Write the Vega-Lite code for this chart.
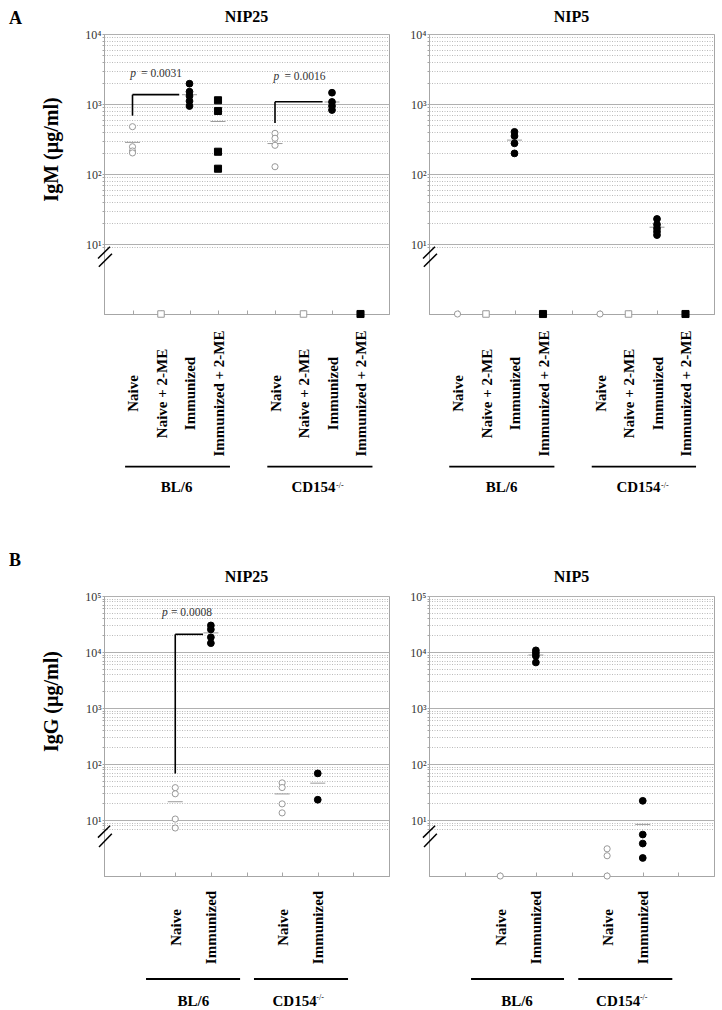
{
  "$schema": "https://vega.github.io/schema/vega-lite/v6.json",
  "padding": {"left": 8, "top": 8, "right": 8, "bottom": 4},
  "background": "white",
  "columns": 2,
  "spacing": {"row": 282, "column": 40},
  "bounds": "flush",
  "datasets": {
    "igm25": [
      {"col": "BL/6|Naive", "treat": "Naive", "value": 474},
      {"col": "BL/6|Naive", "treat": "Naive", "value": 245},
      {"col": "BL/6|Naive", "treat": "Naive", "value": 213},
      {"col": "BL/6|Naive", "treat": "Naive", "value": 200},
      {"col": "BL/6|Naive + 2-ME", "treat": "Naive + 2-ME", "value": 1},
      {"col": "BL/6|Immunized", "treat": "Immunized", "value": 1950},
      {"col": "BL/6|Immunized", "treat": "Immunized", "value": 1500},
      {"col": "BL/6|Immunized", "treat": "Immunized", "value": 1300},
      {"col": "BL/6|Immunized", "treat": "Immunized", "value": 1100},
      {"col": "BL/6|Immunized", "treat": "Immunized", "value": 935},
      {"col": "BL/6|Immunized + 2-ME", "treat": "Immunized + 2-ME", "value": 1130},
      {"col": "BL/6|Immunized + 2-ME", "treat": "Immunized + 2-ME", "value": 795},
      {"col": "BL/6|Immunized + 2-ME", "treat": "Immunized + 2-ME", "value": 208},
      {"col": "BL/6|Immunized + 2-ME", "treat": "Immunized + 2-ME", "value": 119},
      {"col": "CD154|Naive", "treat": "Naive", "value": 381},
      {"col": "CD154|Naive", "treat": "Naive", "value": 324},
      {"col": "CD154|Naive", "treat": "Naive", "value": 257},
      {"col": "CD154|Naive", "treat": "Naive", "value": 127},
      {"col": "CD154|Naive + 2-ME", "treat": "Naive + 2-ME", "value": 1},
      {"col": "CD154|Immunized", "treat": "Immunized", "value": 1450},
      {"col": "CD154|Immunized", "treat": "Immunized", "value": 1070},
      {"col": "CD154|Immunized", "treat": "Immunized", "value": 935},
      {"col": "CD154|Immunized", "treat": "Immunized", "value": 820},
      {"col": "CD154|Immunized + 2-ME", "treat": "Immunized + 2-ME", "value": 1}
    ],
    "igm5": [
      {"col": "BL/6|Naive", "treat": "Naive", "value": 1},
      {"col": "BL/6|Naive + 2-ME", "treat": "Naive + 2-ME", "value": 1},
      {"col": "BL/6|Immunized", "treat": "Immunized", "value": 400},
      {"col": "BL/6|Immunized", "treat": "Immunized", "value": 349},
      {"col": "BL/6|Immunized", "treat": "Immunized", "value": 274},
      {"col": "BL/6|Immunized", "treat": "Immunized", "value": 197},
      {"col": "BL/6|Immunized + 2-ME", "treat": "Immunized + 2-ME", "value": 1},
      {"col": "CD154|Naive", "treat": "Naive", "value": 1},
      {"col": "CD154|Naive + 2-ME", "treat": "Naive + 2-ME", "value": 1},
      {"col": "CD154|Immunized", "treat": "Immunized", "value": 22.8},
      {"col": "CD154|Immunized", "treat": "Immunized", "value": 19},
      {"col": "CD154|Immunized", "treat": "Immunized", "value": 16.7},
      {"col": "CD154|Immunized", "treat": "Immunized", "value": 15},
      {"col": "CD154|Immunized", "treat": "Immunized", "value": 13.4},
      {"col": "CD154|Immunized + 2-ME", "treat": "Immunized + 2-ME", "value": 1}
    ],
    "igg25": [
      {"col": "BL/6|Naive", "treat": "Naive", "value": 37.8},
      {"col": "BL/6|Naive", "treat": "Naive", "value": 29.4},
      {"col": "BL/6|Naive", "treat": "Naive", "value": 10.4},
      {"col": "BL/6|Naive", "treat": "Naive", "value": 7.2},
      {"col": "BL/6|Immunized", "treat": "Immunized", "value": 29800},
      {"col": "BL/6|Immunized", "treat": "Immunized", "value": 25300},
      {"col": "BL/6|Immunized", "treat": "Immunized", "value": 18300},
      {"col": "BL/6|Immunized", "treat": "Immunized", "value": 14400},
      {"col": "CD154|Naive", "treat": "Naive", "value": 46},
      {"col": "CD154|Naive", "treat": "Naive", "value": 38},
      {"col": "CD154|Naive", "treat": "Naive", "value": 19.4},
      {"col": "CD154|Naive", "treat": "Naive", "value": 13.4},
      {"col": "CD154|Immunized", "treat": "Immunized", "value": 68},
      {"col": "CD154|Immunized", "treat": "Immunized", "value": 23}
    ],
    "igg5": [
      {"col": "BL/6|Naive", "treat": "Naive", "value": 1},
      {"col": "BL/6|Immunized", "treat": "Immunized", "value": 10700},
      {"col": "BL/6|Immunized", "treat": "Immunized", "value": 9600},
      {"col": "BL/6|Immunized", "treat": "Immunized", "value": 8500},
      {"col": "BL/6|Immunized", "treat": "Immunized", "value": 6500},
      {"col": "CD154|Naive", "treat": "Naive", "value": 3.06},
      {"col": "CD154|Naive", "treat": "Naive", "value": 2.3},
      {"col": "CD154|Naive", "treat": "Naive", "value": 1},
      {"col": "CD154|Immunized", "treat": "Immunized", "value": 22},
      {"col": "CD154|Immunized", "treat": "Immunized", "value": 5.5},
      {"col": "CD154|Immunized", "treat": "Immunized", "value": 3.8},
      {"col": "CD154|Immunized", "treat": "Immunized", "value": 2.1}
    ]
  },
  "concat": [
    {
      "width": 285, "height": 280,
      "data": {"name": "igm25"},
      "resolve": {"scale": {"x": "independent"}, "axis": {"y": "independent"}},
      "layer": [
        {
          "resolve": {"axis": {"y": "independent"}},
          "encoding": {"x": {"field": "col", "type": "nominal", "scale": {"type": "point", "padding": 0, "domain": ["s0", "BL/6|Naive", "BL/6|Naive + 2-ME", "BL/6|Immunized", "BL/6|Immunized + 2-ME", "s5", "CD154|Naive", "CD154|Naive + 2-ME", "CD154|Immunized", "CD154|Immunized + 2-ME", "s10"]},
            "axis": {"title": null, "grid": false, "domainColor": "#a6a6a6", "tickColor": "#a6a6a6", "tickSize": -4, "labelAngle": 270, "labelAlign": "center", "labelBaseline": "middle", "labelPadding": 83, "labelExpr": "indexof(datum.label, '|') >= 0 ? substring(datum.label, indexof(datum.label, '|') + 1) : ''", "labelFont": "Liberation Serif", "labelFontWeight": "bold", "labelFontSize": 15, "labelColor": "black", "labelOverlap": false, "labelBound": false}}},
          "layer": [
            {"transform": [{"joinaggregate": [{"op": "min", "field": "value", "as": "minv"}], "groupby": ["col"]}, {"filter": "datum.minv > 1"}],
             "mark": {"type": "tick", "orient": "horizontal", "size": 15, "thickness": 1, "color": "#9a9a9a"},
             "encoding": {"y": {"aggregate": "mean", "field": "value", "type": "quantitative", "axis": null}}},
            {"mark": {"type": "point", "filled": true, "strokeWidth": 1, "opacity": 1},
             "encoding": {
               "y": {"field": "value", "type": "quantitative", "scale": {"type": "log", "domain": [1, 10000], "nice": false},
                 "axis": {"orient": "left", "title": "IgM (µg/ml)", "titleFont": "Liberation Serif", "titleFontSize": 20, "titleFontWeight": "bold", "titleColor": "black", "titleX": -43, "titleY": 115,
                   "values": [9, 10, 20, 30, 40, 50, 60, 70, 80, 90, 100, 200, 300, 400, 500, 600, 700, 800, 900, 1000, 2000, 3000, 4000, 5000, 6000, 7000, 8000, 9000, 10000],
                   "labelExpr": "datum.value == 10 ? '10¹' : datum.value == 100 ? '10²' : datum.value == 1000 ? '10³' : datum.value == 10000 ? '10⁴' : datum.value == 100000 ? '10⁵' : ''",
                   "labelFont": "Liberation Serif", "labelFontSize": 12, "labelColor": "#333333", "labelPadding": 1, "labelOverlap": false, "labelBound": false,
                   "tickSize": 2, "tickColor": "#a6a6a6", "domainColor": "#a6a6a6", "grid": true, "gridWidth": 1,
                   "gridColor": {"condition": {"test": "indexof([10,100,1000,10000,100000], datum.value) >= 0", "value": "#b0b0b0"}, "value": "#bababa"},
                   "gridDash": {"condition": {"test": "indexof([10,100,1000,10000,100000], datum.value) >= 0", "value": []}, "value": [1, 1.5]}}},
               "shape": {"field": "treat", "type": "nominal", "scale": {"domain": ["Naive", "Naive + 2-ME", "Immunized", "Immunized + 2-ME"], "range": ["circle", "square", "circle", "square"]}, "legend": null},
               "fill": {"field": "treat", "type": "nominal", "scale": {"domain": ["Naive", "Naive + 2-ME", "Immunized", "Immunized + 2-ME"], "range": ["white", "white", "black", "black"]}, "legend": null},
               "stroke": {"field": "treat", "type": "nominal", "scale": {"domain": ["Naive", "Naive + 2-ME", "Immunized", "Immunized + 2-ME"], "range": ["#999999", "#999999", "black", "black"]}, "legend": null},
               "size": {"field": "treat", "type": "nominal", "scale": {"domain": ["Naive", "Naive + 2-ME", "Immunized", "Immunized + 2-ME"], "range": [38, 50, 40, 52]}, "legend": null}
             }}
          ]
        },
        {
          "data": {"values": [{}]},
          "layer": [
            {"mark": {"type": "rule", "color": "black", "strokeWidth": 1.6}, "encoding": {"x": {"datum": 1, "type": "quantitative", "scale": {"domain": [0, 10], "nice": false, "zero": false}, "axis": null}, "y": {"datum": 681, "type": "quantitative", "axis": null}, "y2": {"datum": 1360}}},
            {"mark": {"type": "rule", "color": "black", "strokeWidth": 1.6}, "encoding": {"x": {"datum": 1, "type": "quantitative", "scale": {"domain": [0, 10], "nice": false, "zero": false}, "axis": null}, "x2": {"datum": 2.64}, "y": {"datum": 1360, "type": "quantitative", "axis": null}}},
            {"mark": {"type": "rule", "color": "black", "strokeWidth": 1.6}, "encoding": {"x": {"datum": 6, "type": "quantitative", "scale": {"domain": [0, 10], "nice": false, "zero": false}, "axis": null}, "y": {"datum": 535, "type": "quantitative", "axis": null}, "y2": {"datum": 1079}}},
            {"mark": {"type": "rule", "color": "black", "strokeWidth": 1.6}, "encoding": {"x": {"datum": 6, "type": "quantitative", "scale": {"domain": [0, 10], "nice": false, "zero": false}, "axis": null}, "x2": {"datum": 7.67}, "y": {"datum": 1079, "type": "quantitative", "axis": null}}},
            {"mark": {"type": "text", "text": "p", "fontStyle": "italic", "fontSize": 11.5, "align": "left", "baseline": "alphabetic", "color": "#333333"}, "encoding": {"x": {"datum": 0.92, "type": "quantitative", "scale": {"domain": [0, 10], "nice": false, "zero": false}, "axis": null}, "y": {"datum": 2400, "type": "quantitative", "axis": null}}},
            {"mark": {"type": "text", "text": "= 0.0031", "fontSize": 11.5, "align": "left", "baseline": "alphabetic", "color": "#333333"}, "encoding": {"x": {"datum": 1.3, "type": "quantitative", "scale": {"domain": [0, 10], "nice": false, "zero": false}, "axis": null}, "y": {"datum": 2400, "type": "quantitative", "axis": null}}},
            {"mark": {"type": "text", "text": "p", "fontStyle": "italic", "fontSize": 11.5, "align": "left", "baseline": "alphabetic", "color": "#333333"}, "encoding": {"x": {"datum": 5.95, "type": "quantitative", "scale": {"domain": [0, 10], "nice": false, "zero": false}, "axis": null}, "y": {"datum": 2225, "type": "quantitative", "axis": null}}},
            {"mark": {"type": "text", "text": "= 0.0016", "fontSize": 11.5, "align": "left", "baseline": "alphabetic", "color": "#333333"}, "encoding": {"x": {"datum": 6.33, "type": "quantitative", "scale": {"domain": [0, 10], "nice": false, "zero": false}, "axis": null}, "y": {"datum": 2225, "type": "quantitative", "axis": null}}},
            {"mark": {"type": "rule", "color": "black", "strokeWidth": 1.8}, "encoding": {"x": {"datum": 0.74, "type": "quantitative", "scale": {"domain": [0, 10], "nice": false, "zero": false}, "axis": null}, "x2": {"datum": 4.42}, "y": {"datum": 0.00659, "type": "quantitative", "axis": null}}},
            {"mark": {"type": "rule", "color": "black", "strokeWidth": 1.8}, "encoding": {"x": {"datum": 5.73, "type": "quantitative", "scale": {"domain": [0, 10], "nice": false, "zero": false}, "axis": null}, "x2": {"datum": 9.42}, "y": {"datum": 0.00659, "type": "quantitative", "axis": null}}},
            {"mark": {"type": "text", "text": "BL/6", "fontSize": 15, "fontWeight": "bold", "align": "center", "baseline": "alphabetic"}, "encoding": {"x": {"datum": 2.55, "type": "quantitative", "scale": {"domain": [0, 10], "nice": false, "zero": false}, "axis": null}, "y": {"datum": 0.00284, "type": "quantitative", "axis": null}}},
            {"mark": {"type": "text", "text": "CD154", "fontSize": 15, "fontWeight": "bold", "align": "center", "baseline": "alphabetic"}, "encoding": {"x": {"datum": 7.35, "type": "quantitative", "scale": {"domain": [0, 10], "nice": false, "zero": false}, "axis": null}, "y": {"datum": 0.00284, "type": "quantitative", "axis": null}}},
            {"mark": {"type": "text", "text": "-/-", "fontSize": 8, "align": "left", "baseline": "alphabetic"}, "encoding": {"x": {"datum": 8.14, "type": "quantitative", "scale": {"domain": [0, 10], "nice": false, "zero": false}, "axis": null}, "y": {"datum": 0.0033, "type": "quantitative", "axis": null}}},
            {"mark": {"type": "rule", "color": "black", "strokeWidth": 1.5}, "encoding": {"x": {"datum": -0.21, "type": "quantitative", "scale": {"domain": [0, 10], "nice": false, "zero": false}, "axis": null}, "x2": {"datum": 0.21}, "y": {"datum": 6.2, "type": "quantitative", "axis": null}, "y2": {"datum": 9.15}}},
            {"mark": {"type": "rule", "color": "black", "strokeWidth": 1.5}, "encoding": {"x": {"datum": -0.18, "type": "quantitative", "scale": {"domain": [0, 10], "nice": false, "zero": false}, "axis": null}, "x2": {"datum": 0.28}, "y": {"datum": 4.74, "type": "quantitative", "axis": null}, "y2": {"datum": 7.27}}},
            {"mark": {"type": "text", "text": "NIP25", "fontSize": 16, "fontWeight": "bold", "align": "center", "baseline": "alphabetic"}, "encoding": {"x": {"datum": 5, "type": "quantitative", "scale": {"domain": [0, 10], "nice": false, "zero": false}, "axis": null}, "y": {"datum": 15000, "type": "quantitative", "axis": null}}},
            {"mark": {"type": "text", "text": "A", "fontSize": 18, "fontWeight": "bold", "align": "left", "baseline": "alphabetic"}, "encoding": {"x": {"datum": -3.33, "type": "quantitative", "scale": {"domain": [0, 10], "nice": false, "zero": false}, "axis": null}, "y": {"datum": 13900, "type": "quantitative", "axis": null}}}
          ]
        }
      ]
    },
    {
      "width": 285, "height": 280,
      "data": {"name": "igm5"},
      "resolve": {"scale": {"x": "independent"}, "axis": {"y": "independent"}},
      "layer": [
        {
          "resolve": {"axis": {"y": "independent"}},
          "encoding": {"x": {"field": "col", "type": "nominal", "scale": {"type": "point", "padding": 0, "domain": ["s0", "BL/6|Naive", "BL/6|Naive + 2-ME", "BL/6|Immunized", "BL/6|Immunized + 2-ME", "s5", "CD154|Naive", "CD154|Naive + 2-ME", "CD154|Immunized", "CD154|Immunized + 2-ME", "s10"]},
            "axis": {"title": null, "grid": false, "domainColor": "#a6a6a6", "tickColor": "#a6a6a6", "tickSize": -4, "labelAngle": 270, "labelAlign": "center", "labelBaseline": "middle", "labelPadding": 83, "labelExpr": "indexof(datum.label, '|') >= 0 ? substring(datum.label, indexof(datum.label, '|') + 1) : ''", "labelFont": "Liberation Serif", "labelFontWeight": "bold", "labelFontSize": 15, "labelColor": "black", "labelOverlap": false, "labelBound": false}}},
          "layer": [
            {"transform": [{"joinaggregate": [{"op": "min", "field": "value", "as": "minv"}], "groupby": ["col"]}, {"filter": "datum.minv > 1"}],
             "mark": {"type": "tick", "orient": "horizontal", "size": 15, "thickness": 1, "color": "#9a9a9a"},
             "encoding": {"y": {"aggregate": "mean", "field": "value", "type": "quantitative", "axis": null}}},
            {"mark": {"type": "point", "filled": true, "strokeWidth": 1, "opacity": 1},
             "encoding": {
               "y": {"field": "value", "type": "quantitative", "scale": {"type": "log", "domain": [1, 10000], "nice": false},
                 "axis": {"orient": "left", "title": null,
                   "values": [9, 10, 20, 30, 40, 50, 60, 70, 80, 90, 100, 200, 300, 400, 500, 600, 700, 800, 900, 1000, 2000, 3000, 4000, 5000, 6000, 7000, 8000, 9000, 10000],
                   "labelExpr": "datum.value == 10 ? '10¹' : datum.value == 100 ? '10²' : datum.value == 1000 ? '10³' : datum.value == 10000 ? '10⁴' : datum.value == 100000 ? '10⁵' : ''",
                   "labelFont": "Liberation Serif", "labelFontSize": 12, "labelColor": "#333333", "labelPadding": 1, "labelOverlap": false, "labelBound": false,
                   "tickSize": 2, "tickColor": "#a6a6a6", "domainColor": "#a6a6a6", "grid": true, "gridWidth": 1,
                   "gridColor": {"condition": {"test": "indexof([10,100,1000,10000,100000], datum.value) >= 0", "value": "#b0b0b0"}, "value": "#bababa"},
                   "gridDash": {"condition": {"test": "indexof([10,100,1000,10000,100000], datum.value) >= 0", "value": []}, "value": [1, 1.5]}}},
               "shape": {"field": "treat", "type": "nominal", "scale": {"domain": ["Naive", "Naive + 2-ME", "Immunized", "Immunized + 2-ME"], "range": ["circle", "square", "circle", "square"]}, "legend": null},
               "fill": {"field": "treat", "type": "nominal", "scale": {"domain": ["Naive", "Naive + 2-ME", "Immunized", "Immunized + 2-ME"], "range": ["white", "white", "black", "black"]}, "legend": null},
               "stroke": {"field": "treat", "type": "nominal", "scale": {"domain": ["Naive", "Naive + 2-ME", "Immunized", "Immunized + 2-ME"], "range": ["#999999", "#999999", "black", "black"]}, "legend": null},
               "size": {"field": "treat", "type": "nominal", "scale": {"domain": ["Naive", "Naive + 2-ME", "Immunized", "Immunized + 2-ME"], "range": [38, 50, 40, 52]}, "legend": null}
             }}
          ]
        },
        {
          "data": {"values": [{}]},
          "layer": [
            {"mark": {"type": "rule", "color": "black", "strokeWidth": 1.8}, "encoding": {"x": {"datum": 0.71, "type": "quantitative", "scale": {"domain": [0, 10], "nice": false, "zero": false}, "axis": null}, "x2": {"datum": 4.4}, "y": {"datum": 0.00659, "type": "quantitative", "axis": null}}},
            {"mark": {"type": "rule", "color": "black", "strokeWidth": 1.8}, "encoding": {"x": {"datum": 5.71, "type": "quantitative", "scale": {"domain": [0, 10], "nice": false, "zero": false}, "axis": null}, "x2": {"datum": 9.37}, "y": {"datum": 0.00659, "type": "quantitative", "axis": null}}},
            {"mark": {"type": "text", "text": "BL/6", "fontSize": 15, "fontWeight": "bold", "align": "center", "baseline": "alphabetic"}, "encoding": {"x": {"datum": 2.55, "type": "quantitative", "scale": {"domain": [0, 10], "nice": false, "zero": false}, "axis": null}, "y": {"datum": 0.00284, "type": "quantitative", "axis": null}}},
            {"mark": {"type": "text", "text": "CD154", "fontSize": 15, "fontWeight": "bold", "align": "center", "baseline": "alphabetic"}, "encoding": {"x": {"datum": 7.35, "type": "quantitative", "scale": {"domain": [0, 10], "nice": false, "zero": false}, "axis": null}, "y": {"datum": 0.00284, "type": "quantitative", "axis": null}}},
            {"mark": {"type": "text", "text": "-/-", "fontSize": 8, "align": "left", "baseline": "alphabetic"}, "encoding": {"x": {"datum": 8.14, "type": "quantitative", "scale": {"domain": [0, 10], "nice": false, "zero": false}, "axis": null}, "y": {"datum": 0.0033, "type": "quantitative", "axis": null}}},
            {"mark": {"type": "rule", "color": "black", "strokeWidth": 1.5}, "encoding": {"x": {"datum": -0.21, "type": "quantitative", "scale": {"domain": [0, 10], "nice": false, "zero": false}, "axis": null}, "x2": {"datum": 0.21}, "y": {"datum": 6.2, "type": "quantitative", "axis": null}, "y2": {"datum": 9.15}}},
            {"mark": {"type": "rule", "color": "black", "strokeWidth": 1.5}, "encoding": {"x": {"datum": -0.18, "type": "quantitative", "scale": {"domain": [0, 10], "nice": false, "zero": false}, "axis": null}, "x2": {"datum": 0.28}, "y": {"datum": 4.74, "type": "quantitative", "axis": null}, "y2": {"datum": 7.27}}},
            {"mark": {"type": "text", "text": "NIP5", "fontSize": 16, "fontWeight": "bold", "align": "center", "baseline": "alphabetic"}, "encoding": {"x": {"datum": 5, "type": "quantitative", "scale": {"domain": [0, 10], "nice": false, "zero": false}, "axis": null}, "y": {"datum": 15000, "type": "quantitative", "axis": null}}}
          ]
        }
      ]
    },
    {
      "width": 285, "height": 280,
      "data": {"name": "igg25"},
      "resolve": {"scale": {"x": "independent"}, "axis": {"y": "independent"}},
      "layer": [
        {
          "resolve": {"axis": {"y": "independent"}},
          "encoding": {"x": {"field": "col", "type": "nominal", "scale": {"type": "point", "padding": 0, "domain": ["s0", "s1", "BL/6|Naive", "BL/6|Immunized", "s4", "CD154|Naive", "CD154|Immunized", "s7", "s8"]},
            "axis": {"title": null, "grid": false, "domainColor": "#a6a6a6", "tickColor": "#a6a6a6", "tickSize": -4, "labelAngle": 270, "labelAlign": "center", "labelBaseline": "middle", "labelPadding": 55, "labelExpr": "indexof(datum.label, '|') >= 0 ? substring(datum.label, indexof(datum.label, '|') + 1) : ''", "labelFont": "Liberation Serif", "labelFontWeight": "bold", "labelFontSize": 15, "labelColor": "black", "labelOverlap": false, "labelBound": false}}},
          "layer": [
            {"transform": [{"joinaggregate": [{"op": "min", "field": "value", "as": "minv"}], "groupby": ["col"]}, {"filter": "datum.minv > 1"}],
             "mark": {"type": "tick", "orient": "horizontal", "size": 15, "thickness": 1, "color": "#9a9a9a"},
             "encoding": {"y": {"aggregate": "mean", "field": "value", "type": "quantitative", "axis": null}}},
            {"mark": {"type": "point", "filled": true, "strokeWidth": 1, "opacity": 1},
             "encoding": {
               "y": {"field": "value", "type": "quantitative", "scale": {"type": "log", "domain": [1, 100000], "nice": false},
                 "axis": {"orient": "left", "title": "IgG (µg/ml)", "titleFont": "Liberation Serif", "titleFontSize": 20, "titleFontWeight": "bold", "titleColor": "black", "titleX": -43, "titleY": 105,
                   "values": [7, 8, 9, 10, 20, 30, 40, 50, 60, 70, 80, 90, 100, 200, 300, 400, 500, 600, 700, 800, 900, 1000, 2000, 3000, 4000, 5000, 6000, 7000, 8000, 9000, 10000, 20000, 30000, 40000, 50000, 60000, 70000, 80000, 90000, 100000],
                   "labelExpr": "datum.value == 10 ? '10¹' : datum.value == 100 ? '10²' : datum.value == 1000 ? '10³' : datum.value == 10000 ? '10⁴' : datum.value == 100000 ? '10⁵' : ''",
                   "labelFont": "Liberation Serif", "labelFontSize": 12, "labelColor": "#333333", "labelPadding": 1, "labelOverlap": false, "labelBound": false,
                   "tickSize": 2, "tickColor": "#a6a6a6", "domainColor": "#a6a6a6", "grid": true, "gridWidth": 1,
                   "gridColor": {"condition": {"test": "indexof([10,100,1000,10000,100000], datum.value) >= 0", "value": "#b0b0b0"}, "value": "#bababa"},
                   "gridDash": {"condition": {"test": "indexof([10,100,1000,10000,100000], datum.value) >= 0", "value": []}, "value": [1, 1.5]}}},
               "shape": {"field": "treat", "type": "nominal", "scale": {"domain": ["Naive", "Naive + 2-ME", "Immunized", "Immunized + 2-ME"], "range": ["circle", "square", "circle", "square"]}, "legend": null},
               "fill": {"field": "treat", "type": "nominal", "scale": {"domain": ["Naive", "Naive + 2-ME", "Immunized", "Immunized + 2-ME"], "range": ["white", "white", "black", "black"]}, "legend": null},
               "stroke": {"field": "treat", "type": "nominal", "scale": {"domain": ["Naive", "Naive + 2-ME", "Immunized", "Immunized + 2-ME"], "range": ["#999999", "#999999", "black", "black"]}, "legend": null},
               "size": {"field": "treat", "type": "nominal", "scale": {"domain": ["Naive", "Naive + 2-ME", "Immunized", "Immunized + 2-ME"], "range": [38, 50, 40, 52]}, "legend": null}
             }}
          ]
        },
        {
          "data": {"values": [{}]},
          "layer": [
            {"mark": {"type": "rule", "color": "black", "strokeWidth": 1.6}, "encoding": {"x": {"datum": 2, "type": "quantitative", "scale": {"domain": [0, 8], "nice": false, "zero": false}, "axis": null}, "y": {"datum": 67.5, "type": "quantitative", "axis": null}, "y2": {"datum": 20700}}},
            {"mark": {"type": "rule", "color": "black", "strokeWidth": 1.6}, "encoding": {"x": {"datum": 2, "type": "quantitative", "scale": {"domain": [0, 8], "nice": false, "zero": false}, "axis": null}, "x2": {"datum": 2.78}, "y": {"datum": 20700, "type": "quantitative", "axis": null}}},
            {"mark": {"type": "text", "text": "p", "fontStyle": "italic", "fontSize": 11.5, "align": "left", "baseline": "alphabetic", "color": "#333333"}, "encoding": {"x": {"datum": 1.63, "type": "quantitative", "scale": {"domain": [0, 8], "nice": false, "zero": false}, "axis": null}, "y": {"datum": 43800, "type": "quantitative", "axis": null}}},
            {"mark": {"type": "text", "text": "= 0.0008", "fontSize": 11.5, "align": "left", "baseline": "alphabetic", "color": "#333333"}, "encoding": {"x": {"datum": 1.88, "type": "quantitative", "scale": {"domain": [0, 8], "nice": false, "zero": false}, "axis": null}, "y": {"datum": 43800, "type": "quantitative", "axis": null}}},
            {"mark": {"type": "rule", "color": "black", "strokeWidth": 1.8}, "encoding": {"x": {"datum": 1.18, "type": "quantitative", "scale": {"domain": [0, 8], "nice": false, "zero": false}, "axis": null}, "x2": {"datum": 3.82}, "y": {"datum": 0.01449, "type": "quantitative", "axis": null}}},
            {"mark": {"type": "rule", "color": "black", "strokeWidth": 1.8}, "encoding": {"x": {"datum": 4.21, "type": "quantitative", "scale": {"domain": [0, 8], "nice": false, "zero": false}, "axis": null}, "x2": {"datum": 6.85}, "y": {"datum": 0.01449, "type": "quantitative", "axis": null}}},
            {"mark": {"type": "text", "text": "BL/6", "fontSize": 15, "fontWeight": "bold", "align": "center", "baseline": "alphabetic"}, "encoding": {"x": {"datum": 2.51, "type": "quantitative", "scale": {"domain": [0, 8], "nice": false, "zero": false}, "axis": null}, "y": {"datum": 0.00484, "type": "quantitative", "axis": null}}},
            {"mark": {"type": "text", "text": "CD154", "fontSize": 15, "fontWeight": "bold", "align": "center", "baseline": "alphabetic"}, "encoding": {"x": {"datum": 5.35, "type": "quantitative", "scale": {"domain": [0, 8], "nice": false, "zero": false}, "axis": null}, "y": {"datum": 0.00484, "type": "quantitative", "axis": null}}},
            {"mark": {"type": "text", "text": "-/-", "fontSize": 8, "align": "left", "baseline": "alphabetic"}, "encoding": {"x": {"datum": 5.96, "type": "quantitative", "scale": {"domain": [0, 8], "nice": false, "zero": false}, "axis": null}, "y": {"datum": 0.00602, "type": "quantitative", "axis": null}}},
            {"mark": {"type": "rule", "color": "black", "strokeWidth": 1.5}, "encoding": {"x": {"datum": -0.17, "type": "quantitative", "scale": {"domain": [0, 8], "nice": false, "zero": false}, "axis": null}, "x2": {"datum": 0.17}, "y": {"datum": 4.85, "type": "quantitative", "axis": null}, "y2": {"datum": 7.9}}},
            {"mark": {"type": "rule", "color": "black", "strokeWidth": 1.5}, "encoding": {"x": {"datum": -0.14, "type": "quantitative", "scale": {"domain": [0, 8], "nice": false, "zero": false}, "axis": null}, "x2": {"datum": 0.22}, "y": {"datum": 3.3, "type": "quantitative", "axis": null}, "y2": {"datum": 5.7}}},
            {"mark": {"type": "text", "text": "NIP25", "fontSize": 16, "fontWeight": "bold", "align": "center", "baseline": "alphabetic"}, "encoding": {"x": {"datum": 4, "type": "quantitative", "scale": {"domain": [0, 8], "nice": false, "zero": false}, "axis": null}, "y": {"datum": 178000, "type": "quantitative", "axis": null}}},
            {"mark": {"type": "text", "text": "B", "fontSize": 18, "fontWeight": "bold", "align": "left", "baseline": "alphabetic"}, "encoding": {"x": {"datum": -2.667, "type": "quantitative", "scale": {"domain": [0, 8], "nice": false, "zero": false}, "axis": null}, "y": {"datum": 345000, "type": "quantitative", "axis": null}}}
          ]
        }
      ]
    },
    {
      "width": 285, "height": 280,
      "data": {"name": "igg5"},
      "resolve": {"scale": {"x": "independent"}, "axis": {"y": "independent"}},
      "layer": [
        {
          "resolve": {"axis": {"y": "independent"}},
          "encoding": {"x": {"field": "col", "type": "nominal", "scale": {"type": "point", "padding": 0, "domain": ["s0", "s1", "BL/6|Naive", "BL/6|Immunized", "s4", "CD154|Naive", "CD154|Immunized", "s7", "s8"]},
            "axis": {"title": null, "grid": false, "domainColor": "#a6a6a6", "tickColor": "#a6a6a6", "tickSize": -4, "labelAngle": 270, "labelAlign": "center", "labelBaseline": "middle", "labelPadding": 55, "labelExpr": "indexof(datum.label, '|') >= 0 ? substring(datum.label, indexof(datum.label, '|') + 1) : ''", "labelFont": "Liberation Serif", "labelFontWeight": "bold", "labelFontSize": 15, "labelColor": "black", "labelOverlap": false, "labelBound": false}}},
          "layer": [
            {"transform": [{"joinaggregate": [{"op": "min", "field": "value", "as": "minv"}], "groupby": ["col"]}, {"filter": "datum.minv > 1"}],
             "mark": {"type": "tick", "orient": "horizontal", "size": 15, "thickness": 1, "color": "#9a9a9a"},
             "encoding": {"y": {"aggregate": "mean", "field": "value", "type": "quantitative", "axis": null}}},
            {"mark": {"type": "point", "filled": true, "strokeWidth": 1, "opacity": 1},
             "encoding": {
               "y": {"field": "value", "type": "quantitative", "scale": {"type": "log", "domain": [1, 100000], "nice": false},
                 "axis": {"orient": "left", "title": null,
                   "values": [7, 8, 9, 10, 20, 30, 40, 50, 60, 70, 80, 90, 100, 200, 300, 400, 500, 600, 700, 800, 900, 1000, 2000, 3000, 4000, 5000, 6000, 7000, 8000, 9000, 10000, 20000, 30000, 40000, 50000, 60000, 70000, 80000, 90000, 100000],
                   "labelExpr": "datum.value == 10 ? '10¹' : datum.value == 100 ? '10²' : datum.value == 1000 ? '10³' : datum.value == 10000 ? '10⁴' : datum.value == 100000 ? '10⁵' : ''",
                   "labelFont": "Liberation Serif", "labelFontSize": 12, "labelColor": "#333333", "labelPadding": 1, "labelOverlap": false, "labelBound": false,
                   "tickSize": 2, "tickColor": "#a6a6a6", "domainColor": "#a6a6a6", "grid": true, "gridWidth": 1,
                   "gridColor": {"condition": {"test": "indexof([10,100,1000,10000,100000], datum.value) >= 0", "value": "#b0b0b0"}, "value": "#bababa"},
                   "gridDash": {"condition": {"test": "indexof([10,100,1000,10000,100000], datum.value) >= 0", "value": []}, "value": [1, 1.5]}}},
               "shape": {"field": "treat", "type": "nominal", "scale": {"domain": ["Naive", "Naive + 2-ME", "Immunized", "Immunized + 2-ME"], "range": ["circle", "square", "circle", "square"]}, "legend": null},
               "fill": {"field": "treat", "type": "nominal", "scale": {"domain": ["Naive", "Naive + 2-ME", "Immunized", "Immunized + 2-ME"], "range": ["white", "white", "black", "black"]}, "legend": null},
               "stroke": {"field": "treat", "type": "nominal", "scale": {"domain": ["Naive", "Naive + 2-ME", "Immunized", "Immunized + 2-ME"], "range": ["#999999", "#999999", "black", "black"]}, "legend": null},
               "size": {"field": "treat", "type": "nominal", "scale": {"domain": ["Naive", "Naive + 2-ME", "Immunized", "Immunized + 2-ME"], "range": [38, 50, 40, 52]}, "legend": null}
             }}
          ]
        },
        {
          "data": {"values": [{}]},
          "layer": [
            {"mark": {"type": "rule", "color": "black", "strokeWidth": 1.8}, "encoding": {"x": {"datum": 1.18, "type": "quantitative", "scale": {"domain": [0, 8], "nice": false, "zero": false}, "axis": null}, "x2": {"datum": 3.79}, "y": {"datum": 0.01449, "type": "quantitative", "axis": null}}},
            {"mark": {"type": "rule", "color": "black", "strokeWidth": 1.8}, "encoding": {"x": {"datum": 4.19, "type": "quantitative", "scale": {"domain": [0, 8], "nice": false, "zero": false}, "axis": null}, "x2": {"datum": 6.83}, "y": {"datum": 0.01449, "type": "quantitative", "axis": null}}},
            {"mark": {"type": "text", "text": "BL/6", "fontSize": 15, "fontWeight": "bold", "align": "center", "baseline": "alphabetic"}, "encoding": {"x": {"datum": 2.47, "type": "quantitative", "scale": {"domain": [0, 8], "nice": false, "zero": false}, "axis": null}, "y": {"datum": 0.00484, "type": "quantitative", "axis": null}}},
            {"mark": {"type": "text", "text": "CD154", "fontSize": 15, "fontWeight": "bold", "align": "center", "baseline": "alphabetic"}, "encoding": {"x": {"datum": 5.31, "type": "quantitative", "scale": {"domain": [0, 8], "nice": false, "zero": false}, "axis": null}, "y": {"datum": 0.00484, "type": "quantitative", "axis": null}}},
            {"mark": {"type": "text", "text": "-/-", "fontSize": 8, "align": "left", "baseline": "alphabetic"}, "encoding": {"x": {"datum": 5.92, "type": "quantitative", "scale": {"domain": [0, 8], "nice": false, "zero": false}, "axis": null}, "y": {"datum": 0.00602, "type": "quantitative", "axis": null}}},
            {"mark": {"type": "rule", "color": "black", "strokeWidth": 1.5}, "encoding": {"x": {"datum": -0.17, "type": "quantitative", "scale": {"domain": [0, 8], "nice": false, "zero": false}, "axis": null}, "x2": {"datum": 0.17}, "y": {"datum": 4.85, "type": "quantitative", "axis": null}, "y2": {"datum": 7.9}}},
            {"mark": {"type": "rule", "color": "black", "strokeWidth": 1.5}, "encoding": {"x": {"datum": -0.14, "type": "quantitative", "scale": {"domain": [0, 8], "nice": false, "zero": false}, "axis": null}, "x2": {"datum": 0.22}, "y": {"datum": 3.3, "type": "quantitative", "axis": null}, "y2": {"datum": 5.7}}},
            {"mark": {"type": "text", "text": "NIP5", "fontSize": 16, "fontWeight": "bold", "align": "center", "baseline": "alphabetic"}, "encoding": {"x": {"datum": 4, "type": "quantitative", "scale": {"domain": [0, 8], "nice": false, "zero": false}, "axis": null}, "y": {"datum": 178000, "type": "quantitative", "axis": null}}}
          ]
        }
      ]
    }
  ],
  "config": {
    "view": {"stroke": "#a6a6a6", "strokeWidth": 1},
    "text": {"font": "Liberation Serif", "color": "black"}
  }
}
